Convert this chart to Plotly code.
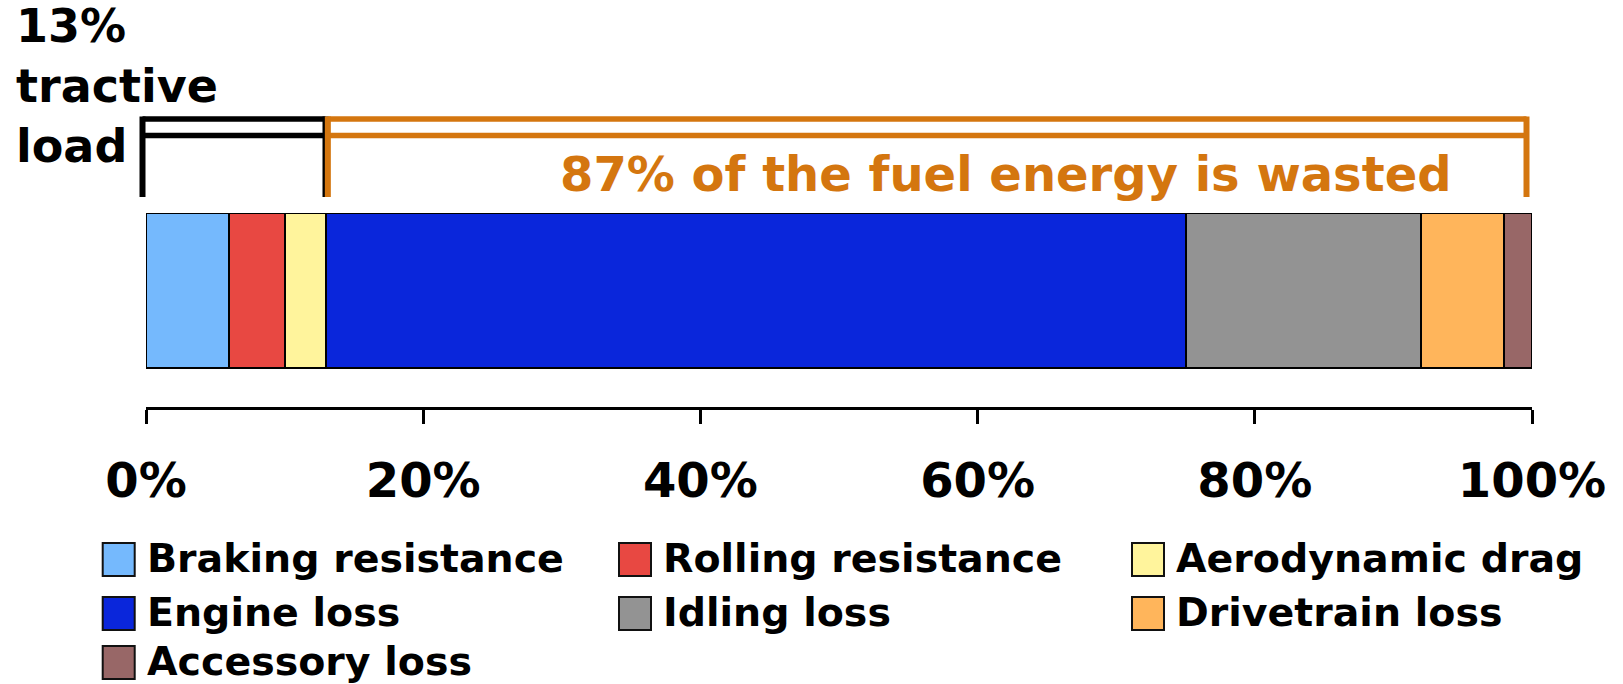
import plotly.graph_objects as go

# ---- data ----
categories = ["Braking resistance", "Rolling resistance", "Aerodynamic drag",
              "Engine loss", "Idling loss", "Drivetrain loss", "Accessory loss"]
values = [6, 4, 3, 62, 17, 6, 2]
colors = ["#75B9FD", "#E84842", "#FFF49C", "#0A26DB", "#939393", "#FFB55B", "#986767"]
tick_vals = [0, 20, 40, 60, 80, 100]
tick_text = ["0%", "20%", "40%", "60%", "80%", "100%"]
tractive_n = 3  # first three categories are tractive load
tractive_label = "13%<br>tractive<br>load"
wasted_label = "87% of the fuel energy is wasted"

W, H = 1623, 684
L, R, T, B = 146, 1532, 213, 407  # plot area in pixels
ACCENT = "#D4760F"
FONT = "DejaVu Sans"


def px_x(p):
    return (p - L) / (R - L)


def px_y(p):
    return (B - p) / (B - T)


fig = go.Figure()
for name, v, c in zip(categories, values, colors):
    fig.add_trace(go.Bar(
        x=[v], y=[0], name=name, orientation="h", width=1,
        marker=dict(color=c, line=dict(color="black", width=2)),
        showlegend=False,
    ))

total = sum(values)
tractive = sum(values[:tractive_n])

shapes = []
annotations = []

# brackets (paper coordinates; x derived from data fraction)
def bracket(x0, x1, color):
    yt1, yt2 = px_y(119), px_y(135.5)
    ytop, ybot = px_y(116.5), px_y(197)
    for yy in (yt1, yt2):
        shapes.append(dict(type="line", xref="paper", yref="paper", x0=x0, x1=x1,
                           y0=yy, y1=yy, line=dict(color=color, width=5.5)))
    for xx in (x0, x1):
        shapes.append(dict(type="line", xref="paper", yref="paper", x0=xx, x1=xx,
                           y0=ytop, y1=ybot, line=dict(color=color, width=6)))

bracket(px_x(142.5), tractive / total - 0.0005, "black")
bracket(tractive / total + 0.0012, px_x(1526.5), ACCENT)

annotations.append(dict(text="<b>" + tractive_label + "</b>", xref="paper", yref="paper",
                        x=px_x(14), y=px_y(-3), xanchor="left", yanchor="top", align="left",
                        showarrow=False, font=dict(family=FONT, size=46, color="black")))
annotations.append(dict(text="<b>" + wasted_label + "</b>", xref="paper", yref="paper",
                        x=px_x(1006), y=px_y(174), xanchor="center", yanchor="middle",
                        showarrow=False, font=dict(family=FONT, size=48, color=ACCENT)))

# manual legend
col_x = [102.7, 619, 1132]
row_y = [559.5, 613.5, 662.5]
sw_w, sw_h = 32, 33
for i, (name, c) in enumerate(zip(categories, colors)):
    cx = col_x[i % 3]
    cy = row_y[i // 3]
    shapes.append(dict(type="rect", xref="paper", yref="paper",
                       x0=px_x(cx), x1=px_x(cx + sw_w),
                       y0=px_y(cy - sw_h / 2), y1=px_y(cy + sw_h / 2),
                       fillcolor=c, line=dict(color="#111111", width=2)))
    annotations.append(dict(text="<b>" + name + "</b>", xref="paper", yref="paper",
                            x=px_x(cx + 42), y=px_y(cy - 1.5), xanchor="left", yanchor="middle",
                            showarrow=False, font=dict(family=FONT, size=39.5, color="black")))

fig.update_layout(
    width=W, height=H,
    margin=dict(l=L, r=W - R, t=T, b=H - B, pad=0),
    paper_bgcolor="white", plot_bgcolor="white",
    barmode="stack", bargap=0,
    shapes=shapes, annotations=annotations,
    showlegend=False,
    xaxis=dict(range=[0, total], tickvals=tick_vals, ticktext=tick_text,
               showgrid=False, zeroline=False, showline=True, linecolor="black",
               linewidth=3, ticks="outside", ticklen=14, tickwidth=3, tickcolor="black",
               ticklabelstandoff=15,
               tickfont=dict(family=FONT, size=48, color="black", weight="bold"),
               fixedrange=True),
    yaxis=dict(range=[-0.5 - 39 / 155, 0.5], visible=False, fixedrange=True),
)

fig.write_html("out.html", config={"displayModeBar": False})
